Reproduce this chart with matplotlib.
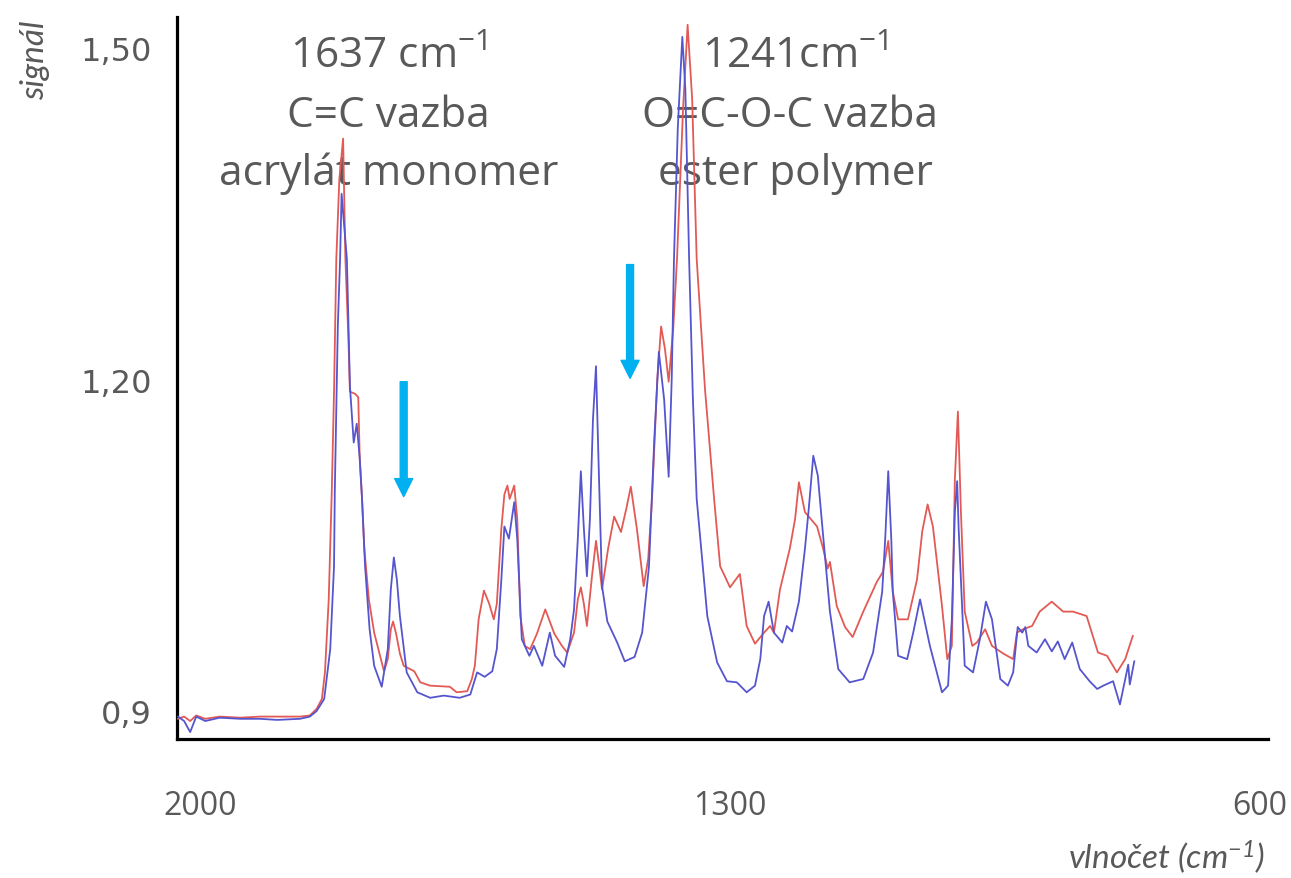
import matplotlib
matplotlib.use("Agg")
import matplotlib.pyplot as plt

# Wavenumber axis as labelled in the picture, signal.
BLUE_WN = [2029, 2021, 2013, 2005, 1993, 1974, 1947, 1921, 1898, 1868, 1855,
           1846, 1836, 1828, 1823, 1822, 1818, 1815, 1813, 1806, 1802, 1797,
           1793, 1789, 1786, 1782, 1776, 1770, 1760, 1752, 1748, 1744, 1740,
           1736, 1727, 1713, 1696, 1678, 1657, 1643, 1634, 1624, 1614, 1608,
           1602, 1598, 1592, 1585, 1581, 1575, 1565, 1559, 1548, 1538, 1531,
           1519, 1511, 1506, 1501, 1497, 1493, 1489, 1485, 1481, 1477, 1473,
           1469, 1462, 1449, 1439, 1426, 1416, 1407, 1400, 1394, 1387, 1381,
           1377, 1374, 1369, 1363, 1359, 1354, 1349, 1344, 1330, 1317, 1304,
           1291, 1278, 1267, 1260, 1255, 1249, 1242, 1231, 1225, 1218, 1209,
           1201, 1196, 1190, 1184, 1179, 1168, 1157, 1142, 1124, 1111, 1099,
           1095, 1091, 1087, 1085, 1078, 1066, 1058, 1049, 1036, 1020, 1012,
           1007, 1003, 1000, 998, 995, 990, 979, 970, 962, 954, 943, 933, 926,
           920, 914, 910, 906, 895, 884, 875, 867, 858, 848, 838, 825, 815,
           807, 794, 785, 774, 772, 766]
BLUE_SIG = [0.895, 0.891, 0.881, 0.895, 0.891, 0.894, 0.893, 0.893, 0.892,
            0.893, 0.895, 0.900, 0.911, 0.956, 1.031, 1.098, 1.248, 1.309,
            1.368, 1.309, 1.194, 1.143, 1.160, 1.128, 1.092, 1.031, 0.974,
            0.941, 0.922, 0.956, 1.010, 1.039, 1.019, 0.986, 0.935, 0.917,
            0.912, 0.914, 0.912, 0.915, 0.935, 0.931, 0.936, 0.956, 1.019,
            1.067, 1.056, 1.089, 1.056, 0.965, 0.950, 0.959, 0.941, 0.971,
            0.950, 0.940, 0.965, 0.992, 1.056, 1.117, 1.065, 1.022, 1.074,
            1.164, 1.212, 1.110, 1.013, 0.981, 0.962, 0.945, 0.949, 0.971,
            1.031, 1.146, 1.225, 1.182, 1.112, 1.200, 1.309, 1.427, 1.510,
            1.463, 1.309, 1.182, 1.092, 0.986, 0.944, 0.927, 0.926, 0.917,
            0.923, 0.947, 0.986, 0.999, 0.971, 0.962, 0.977, 0.972, 0.999,
            1.047, 1.083, 1.131, 1.113, 1.074, 0.990, 0.938, 0.926, 0.929,
            0.953, 1.008, 1.056, 1.117, 1.056, 1.008, 0.950, 0.947, 0.971,
            1.001, 0.959, 0.917, 0.923, 0.983, 1.080, 1.108, 1.065, 1.019,
            0.941, 0.935, 0.965, 0.999, 0.983, 0.929, 0.923, 0.935, 0.976,
            0.971, 0.976, 0.959, 0.953, 0.965, 0.954, 0.963, 0.947, 0.962,
            0.938, 0.927, 0.920, 0.923, 0.927, 0.906, 0.942, 0.924, 0.945]

RED_WN = [2029, 2021, 2013, 2005, 1993, 1974, 1947, 1921, 1898, 1868, 1855,
          1846, 1839, 1835, 1830, 1826, 1823, 1820, 1816, 1811, 1808, 1804,
          1802, 1795, 1791, 1789, 1786, 1783, 1777, 1770, 1757, 1752, 1748,
          1745, 1741, 1736, 1731, 1717, 1709, 1696, 1670, 1661, 1647, 1641,
          1637, 1632, 1625, 1618, 1612, 1608, 1602, 1598, 1594, 1591, 1585,
          1581, 1577, 1571, 1564, 1555, 1544, 1532, 1522, 1515, 1506, 1501,
          1497, 1493, 1489, 1482, 1477, 1473, 1469, 1461, 1453, 1444, 1437,
          1431, 1423, 1414, 1408, 1403, 1396, 1391, 1386, 1381, 1375, 1370,
          1362, 1356, 1350, 1344, 1333, 1321, 1313, 1300, 1287, 1278, 1267,
          1255, 1247, 1242, 1234, 1221, 1214, 1209, 1201, 1185, 1177, 1171,
          1168, 1159, 1148, 1138, 1124, 1106, 1098, 1091, 1085, 1078, 1065,
          1053, 1046, 1039, 1032, 1020, 1013, 1007, 1003, 999, 995, 990, 980,
          974, 963, 954, 939, 926, 921, 913, 901, 891, 875, 860, 847, 829,
          814, 802, 789, 778, 768]
RED_SIG = [0.893, 0.895, 0.891, 0.896, 0.893, 0.895, 0.894, 0.895, 0.895,
           0.895, 0.896, 0.902, 0.911, 0.935, 1.001, 1.098, 1.189, 1.309,
           1.381, 1.418, 1.309, 1.237, 1.189, 1.187, 1.184, 1.128, 1.092,
           1.047, 1.001, 0.971, 0.936, 0.947, 0.974, 0.981, 0.970, 0.952,
           0.941, 0.936, 0.926, 0.923, 0.922, 0.917, 0.918, 0.929, 0.941,
           0.983, 1.009, 0.997, 0.983, 0.997, 1.065, 1.096, 1.104, 1.092,
           1.104, 1.074, 0.986, 0.959, 0.956, 0.970, 0.992, 0.970, 0.959,
           0.953, 0.971, 1.001, 1.012, 0.997, 0.977, 1.024, 1.054, 1.033,
           1.010, 1.047, 1.076, 1.062, 1.083, 1.103, 1.065, 1.013, 1.038,
           1.092, 1.200, 1.248, 1.228, 1.198, 1.246, 1.309, 1.445, 1.521,
           1.454, 1.309, 1.191, 1.092, 1.031, 1.012, 1.024, 0.977, 0.961,
           0.971, 0.977, 0.971, 1.010, 1.047, 1.074, 1.107, 1.080, 1.067,
           1.047, 1.029, 1.035, 0.995, 0.976, 0.967, 0.990, 1.017, 1.026,
           1.054, 1.008, 0.983, 0.983, 1.019, 1.063, 1.087, 1.067, 0.995,
           0.947, 0.959, 1.110, 1.171, 1.080, 0.990, 0.959, 0.962, 0.974,
           0.959, 0.952, 0.947, 0.971, 0.974, 0.977, 0.990, 0.999, 0.990,
           0.990, 0.986, 0.953, 0.950, 0.935, 0.947, 0.968]

Y_TICKS = [0.9, 1.2, 1.5]
Y_TICK_LABELS = ["0,9", "1,20", "1,50"]
X_TICKS = [2000, 1300, 600]
X_TICK_LABELS = ["2000", "1300", "600"]

# peak notes and arrows (x, y_from, y_to)
NOTE_LEFT = ["1637 cm$^{\\mathregular{-1}}$", "C=C vazba", "acrylát monomer"]
NOTE_RIGHT = ["1241cm$^{\\mathregular{-1}}$", "O=C-O-C vazba", "ester polymer"]
ARROWS = [(1731, 1.198, 1.094), (1432, 1.304, 1.201)]

GRAY = "#595959"
RED = "#e25a55"
BLUE = "#5555cf"
CYAN = "#00b0f0"

plt.rcParams["mathtext.default"] = "regular"

fig = plt.figure(figsize=(12.91, 8.79), dpi=100)
ax = fig.add_axes([0.1371, 0.1581, 0.8451, 0.8214])

ax.plot(RED_WN, RED_SIG, color=RED, lw=1.3, zorder=3)
ax.plot(BLUE_WN, BLUE_SIG, color=BLUE, lw=1.3, zorder=3)

ax.set_xlim(2030.4, 589.4)
ax.set_ylim(0.8747, 1.528)

for s in ("top", "right"):
    ax.spines[s].set_visible(False)
for s in ("left", "bottom"):
    ax.spines[s].set_linewidth(2.3)
    ax.spines[s].set_color("black")

ax.set_yticks(Y_TICKS)
ax.set_yticklabels(Y_TICK_LABELS, fontsize=23, color=GRAY,
                   family="DejaVu Sans")
ax.set_xticks(X_TICKS)
ax.set_xticklabels(X_TICK_LABELS, fontsize=23, color=GRAY,
                   family="Open Sans")
ax.tick_params(axis="y", length=0, pad=18)
ax.tick_params(axis="x", length=0, pad=36)

note_font = dict(fontsize=30.5, color=GRAY, family="Open Sans",
                 ha="center", va="center", zorder=1)
rows = [1.493, 1.439, 1.387]
for i, line in enumerate(NOTE_LEFT):
    ax.text(1751, rows[i], line, **note_font)
for i, line in enumerate(NOTE_RIGHT):
    ax.text([1214, 1221, 1214][i], rows[i], line, **note_font)

for x, y0, y1 in ARROWS:
    ax.annotate("", xy=(x, y1), xytext=(x, y0),
                arrowprops=dict(color=CYAN, width=5, headwidth=13,
                                headlength=13, shrink=0), zorder=4)

fig.text(35 / 1291, 1 - 60 / 879, "signál", rotation=90, fontsize=24,
         style="italic", color=GRAY, ha="center", va="center",
         family=["Lato", "DejaVu Sans"])
fig.text(1265 / 1291, 1 - 857 / 879, "vlnočet (cm$^{\\mathregular{-1}}$)",
         fontsize=24, style="italic", color=GRAY, ha="right", va="center",
         family=["Lato", "DejaVu Sans"])

fig.savefig("out.png", dpi=100)
